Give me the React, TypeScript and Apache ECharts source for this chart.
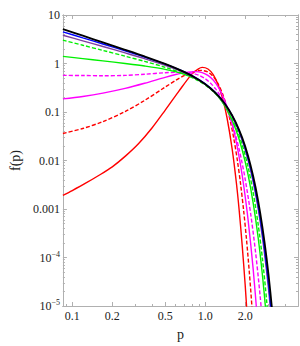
import React, { useEffect, useRef } from "react";
import * as echarts from "echarts";

// ---- data (p, f(p)) ----
const pRedSolid = [0.085, 0.1, 0.126, 0.158, 0.2, 0.251, 0.316, 0.398, 0.501, 0.631, 0.794, 0.891, 0.95, 1.05, 1.15, 1.25, 1.35, 1.46, 1.6, 1.72, 1.8, 1.9, 2.0, 2.1];
const fRedSolid = [0.0019, 0.0024, 0.0034, 0.0049, 0.0074, 0.0123, 0.0224, 0.0468, 0.1096, 0.263, 0.603, 0.776, 0.83, 0.77, 0.59, 0.37, 0.195, 0.077, 0.0168, 0.0034, 0.001, 1.8e-4, 2.8e-5, 3.5e-6];

const pRedDashed = [0.085, 0.12, 0.17, 0.25, 0.35, 0.5, 0.6, 0.7, 0.8, 0.94, 1.05, 1.15, 1.25, 1.35, 1.45, 1.55, 1.65, 1.75, 1.85, 1.95, 2.05, 2.15, 2.25, 2.35];
const fRedDashed = [0.036, 0.0457, 0.0634, 0.1023, 0.1728, 0.3257, 0.448, 0.569, 0.664, 0.72, 0.665, 0.54, 0.384, 0.24, 0.1315, 0.0633, 0.0267, 0.00989, 0.00321, 9.16e-4, 2.29e-4, 5.03e-5, 9.7e-6, 1.6e-6];

const pMagSolid = [0.085, 0.12, 0.17, 0.25, 0.35, 0.5, 0.6, 0.7, 0.85, 0.95, 1.05, 1.15, 1.25, 1.35, 1.45, 1.55, 1.65, 1.75, 1.85, 1.95, 2.1, 2.3, 2.5];
const fMagSolid = [0.186, 0.209, 0.245, 0.307, 0.391, 0.519, 0.592, 0.647, 0.68, 0.65, 0.569, 0.455, 0.333, 0.222, 0.136, 0.0763, 0.039, 0.0183, 0.00783, 0.00307, 6.35e-4, 5.7e-5, 3.6e-6];

const pMagDashed = [0.085, 0.12, 0.17, 0.25, 0.35, 0.5, 0.6, 0.7, 0.8, 0.9, 1.0, 1.1, 1.2, 1.3, 1.4, 1.5, 1.6, 1.7, 1.8, 1.9, 2.0, 2.2, 2.4, 2.6, 2.8];
const fMagDashed = [0.57, 0.565, 0.56, 0.568, 0.6, 0.645, 0.655, 0.655, 0.628, 0.569, 0.487, 0.393, 0.299, 0.215, 0.146, 0.0935, 0.0563, 0.0321, 0.0173, 0.00876, 0.0042, 8.07e-4, 1.24e-4, 1.5e-5, 1.4e-6];

const pGrid = [0.085, 0.12, 0.17, 0.25, 0.35, 0.5, 0.7, 0.9, 1.1, 1.3, 1.5, 1.7, 1.9, 2.1, 2.3, 2.5, 2.7, 2.9, 3.1, 3.3, 3.5];
const fGreenSolid = [1.4, 1.262, 1.132, 1.0, 0.888, 0.757, 0.601, 0.448, 0.304, 0.184, 0.0972, 0.0439, 0.0167, 0.00523, 0.00132, 2.71e-4, 4.3e-5, 5.3e-6];
const fGreenDashed = [3.03, 2.38, 1.863, 1.416, 1.107, 0.834, 0.603, 0.433, 0.295, 0.185, 0.104, 0.0509, 0.0214, 0.00755, 0.00218, 5.1e-4, 9.4e-5, 1.33e-5, 1.4e-6];
const fPurple = [3.82, 2.93, 2.242, 1.651, 1.257, 0.918, 0.644, 0.451, 0.304, 0.191, 0.11, 0.057, 0.0262, 0.01045, 0.0036, 0.00105, 2.58e-4, 5.3e-5, 8.8e-6, 1.2e-6];
const fBlue = [4.49, 3.37, 2.525, 1.817, 1.356, 0.972, 0.67, 0.465, 0.312, 0.196, 0.114, 0.0597, 0.0279, 0.0114, 0.00405, 0.00123, 3.13e-4, 6.7e-5, 1.19e-5, 1.7e-6];
const fBlack = [5.1, 3.74, 2.73, 1.917, 1.399, 0.979, 0.663, 0.456, 0.306, 0.1945, 0.1144, 0.0614, 0.0296, 0.0127, 0.00472, 0.00153, 4.19e-4, 9.8e-5, 1.9e-5, 3.0e-6, 4e-7];

// ticks
const xMajorTicks = [0.1, 0.2, 0.5, 1.0, 2.0];
const xMinorTicks = [0.09, 0.3, 0.4, 0.6, 0.7, 0.8, 0.9, 3, 4];
const yMajorExp = [-5, -4, -3, -2, -1, 0, 1];
const yLabels = ["10{s|−5}", "10{s|−4}", "0.001", "0.01", "0.1", "1", "10"];

const X_MIN = 0.085;
const X_MAX = 5.0;

const lg = (v: number) => Math.log10(v);

function pairs(ps: number[], fs: number[]) {
  const out: number[][] = [];
  for (let i = 0; i < fs.length && i < ps.length; i++) out.push([lg(ps[i]), lg(fs[i])]);
  return out;
}

export default function App() {
  const ref = useRef<HTMLDivElement>(null);
  useEffect(() => {
    if (!ref.current) return;
    const chart = echarts.init(ref.current, undefined, { renderer: "svg" });
    const frame = "#b0b0b0";
    const font = "'Liberation Serif', 'DejaVu Serif', serif";
    const yMinor: number[] = [];
    for (let e = -5; e < 1; e++) for (let k = 2; k <= 9; k++) yMinor.push(e + lg(k));

    const xAxisBase = (pos: "bottom" | "top", ticks: number[], len: number, showLabel: boolean) => ({
      type: "value" as const,
      position: pos,
      min: lg(X_MIN),
      max: lg(X_MAX),
      axisLine: { show: true, onZero: false, lineStyle: { color: frame, width: 1 } },
      splitLine: { show: false },
      axisTick: { show: true, inside: true, length: len, customValues: ticks.map(lg), lineStyle: { color: frame } },
      axisLabel: showLabel
        ? {
            show: true,
            customValues: ticks.map(lg),
            formatter: (v: number) => Math.pow(10, v).toFixed(1),
            color: "#222",
            fontFamily: font,
            fontSize: 12,
            margin: 4,
          }
        : { show: false },
    });
    const yAxisBase = (pos: "left" | "right", ticks: number[], len: number, showLabel: boolean) => ({
      type: "value" as const,
      position: pos,
      min: -5,
      max: 1,
      axisLine: { show: true, onZero: false, lineStyle: { color: frame, width: 1 } },
      splitLine: { show: false },
      axisTick: { show: true, inside: true, length: len, customValues: ticks, lineStyle: { color: frame } },
      axisLabel: showLabel
        ? {
            show: true,
            customValues: ticks,
            formatter: (v: number) => {
              const i = yMajorExp.indexOf(Math.round(v));
              return i >= 0 ? yLabels[i] : "";
            },
            color: "#222",
            fontFamily: font,
            fontSize: 12,
            margin: 3,
            rich: {
              s: { fontSize: 8, fontFamily: font, color: "#222", padding: [0, 0, 7, 0] },
            },
          }
        : { show: false },
    });

    const mk = (name: string, ps: number[], fs: number[], color: string, dashed: boolean, width = 1.4) => ({
      name,
      type: "line" as const,
      data: pairs(ps, fs),
      showSymbol: false,
      smooth: 0.3,
      clip: true,
      lineStyle: { color, width, type: dashed ? ([4, 2] as any) : "solid" },
      xAxisIndex: 0,
      yAxisIndex: 0,
    });

    chart.setOption({
      animation: false,
      backgroundColor: "#ffffff",
      grid: { left: 50, right: 2, top: 15, bottom: 34, containLabel: false },
      xAxis: [
        {
          ...xAxisBase("bottom", xMajorTicks, 4, true),
          name: "p",
          nameLocation: "middle",
          nameGap: 21,
          nameTextStyle: { fontFamily: font, fontSize: 14, color: "#222" },
        },
        { ...xAxisBase("bottom", xMinorTicks, 2, false) },
        { ...xAxisBase("top", xMajorTicks, 4, false) },
        { ...xAxisBase("top", xMinorTicks, 2, false) },
      ],
      yAxis: [
        {
          ...yAxisBase("left", yMajorExp, 4, true),
          name: "f(p)",
          nameLocation: "middle",
          nameGap: 38,
          nameRotate: 90,
          nameTextStyle: { fontFamily: font, fontSize: 14, color: "#222" },
        },
        { ...yAxisBase("left", yMinor, 2, false) },
        { ...yAxisBase("right", yMajorExp, 4, false) },
        { ...yAxisBase("right", yMinor, 2, false) },
      ],
      series: [
        mk("red solid", pRedSolid, fRedSolid, "#ff0000", false),
        mk("red dashed", pRedDashed, fRedDashed, "#ff0000", true),
        mk("magenta solid", pMagSolid, fMagSolid, "#ff00ff", false),
        mk("magenta dashed", pMagDashed, fMagDashed, "#ff00ff", true),
        mk("green solid", pGrid, fGreenSolid, "#00f000", false),
        mk("green dashed", pGrid, fGreenDashed, "#00f000", true),
        mk("purple", pGrid, fPurple, "#7f3f9f", false),
        mk("blue", pGrid, fBlue, "#0000ff", false),
        mk("black", pGrid, fBlack, "#000000", false, 1.8),
      ],
    });
    return () => chart.dispose();
  }, []);
  return <div ref={ref} style={{ position: "fixed", left: 0, top: 0, width: 300, height: 346 }} />;
}
